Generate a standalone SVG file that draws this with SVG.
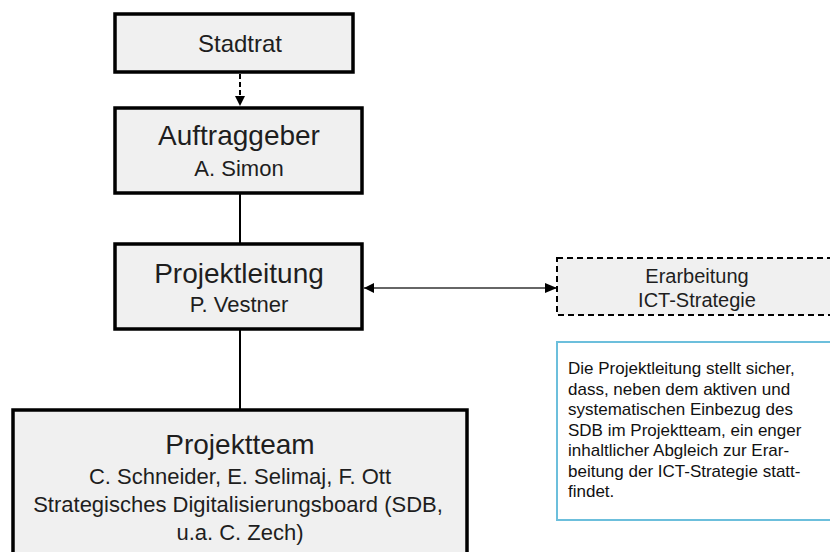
<svg xmlns="http://www.w3.org/2000/svg" width="830" height="552" viewBox="0 0 830 552">
<defs>
<style>
.box{fill:#f0f0f0;stroke:#000;stroke-width:3.5}
.dbox{fill:#f0f0f0;stroke:#000;stroke-width:2;stroke-dasharray:6 4}
.note{fill:#fff;stroke:#6cbfdc;stroke-width:2}
.t{font-family:"Liberation Sans",Arial,sans-serif;fill:#1e1e1e;text-anchor:middle}
.nt{font-family:"Liberation Sans",Arial,sans-serif;fill:#111;font-size:17px}
.ln{stroke:#000;stroke-width:2;fill:none}
</style>
<marker id="ah" viewBox="0 0 10 10" refX="10" refY="5" markerWidth="10" markerHeight="10" markerUnits="userSpaceOnUse" orient="auto-start-reverse">
<path d="M0,0 L10,5 L0,10 z" fill="#000"/>
</marker>
<marker id="ah2" viewBox="0 0 12 10" refX="12" refY="5" markerWidth="12" markerHeight="10" markerUnits="userSpaceOnUse" orient="auto-start-reverse">
<path d="M0,0 L12,5 L0,10 z" fill="#000"/>
</marker>
</defs>
<rect width="830" height="552" fill="#fff"/>
<g id="connectors">
<line class="ln" x1="240" y1="74" x2="240" y2="106" stroke-dasharray="5 3" marker-end="url(#ah)"/>
<line class="ln" x1="240" y1="193" x2="240" y2="245"/>
<line class="ln" x1="240" y1="329" x2="240" y2="410"/>
<line x1="364" y1="288" x2="557" y2="288" stroke="#333" stroke-width="1.5" marker-start="url(#ah)" marker-end="url(#ah2)"/>
</g>
<g id="stadtrat">
<rect class="box" x="115" y="14" width="238" height="58"/>
<text class="t" x="240" y="52" font-size="24">Stadtrat</text>
</g>
<g id="auftraggeber">
<rect class="box" x="115" y="108" width="247" height="85"/>
<text class="t" x="239" y="145" font-size="28">Auftraggeber</text>
<text class="t" x="239" y="176" font-size="22">A. Simon</text>
</g>
<g id="projektleitung">
<rect class="box" x="115" y="244" width="247" height="85"/>
<text class="t" x="239" y="283" font-size="28">Projektleitung</text>
<text class="t" x="239" y="312" font-size="22">P. Vestner</text>
</g>
<g id="ict">
<rect class="dbox" x="557" y="258" width="280" height="57"/>
<text class="t" x="697" y="283" font-size="20">Erarbeitung</text>
<text class="t" x="697" y="307" font-size="20">ICT-Strategie</text>
</g>
<g id="notiz">
<rect class="note" x="557" y="342" width="280" height="178"/>
<text class="nt" x="568" y="374">Die Projektleitung stellt sicher,</text>
<text class="nt" x="568" y="394.5">dass, neben dem aktiven und</text>
<text class="nt" x="568" y="415">systematischen Einbezug des</text>
<text class="nt" x="568" y="435.5">SDB im Projektteam, ein enger</text>
<text class="nt" x="568" y="456">inhaltlicher Abgleich zur Erar-</text>
<text class="nt" x="568" y="476.5">beitung der ICT-Strategie statt-</text>
<text class="nt" x="568" y="497">findet.</text>
</g>
<g id="projektteam">
<rect class="box" x="13" y="410" width="454" height="160"/>
<text class="t" x="240" y="454" font-size="28">Projektteam</text>
<text class="t" x="240" y="484" font-size="22">C. Schneider, E. Selimaj, F. Ott</text>
<text class="t" x="238" y="512" font-size="22">Strategisches Digitalisierungsboard (SDB,</text>
<text class="t" x="240" y="540" font-size="22">u.a. C. Zech)</text>
</g>
</svg>
